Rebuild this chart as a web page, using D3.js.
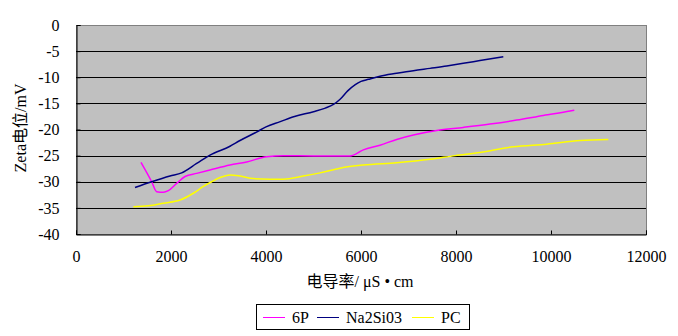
<!DOCTYPE html>
<html>
<head>
<meta charset="utf-8">
<script src="https://cdn.jsdelivr.net/npm/d3@7"></script>
<style>
  html, body { margin: 0; padding: 0; background: #fff; }
  svg { display: block; }
  text { font-family: "Liberation Serif", "Noto Sans CJK SC", serif; fill: #000; }
</style>
</head>
<body>
<svg id="chart" width="678" height="336"></svg>
<script>
// Conductivity (µS·cm) vs Zeta potential (mV) for three dispersants
const seriesNames = ["6P", "Na2Si03", "PC"];
const seriesColors = ["#FF00FF", "#000080", "#FFFF00"];

const x6P = [1368, 1593, 1698, 1839, 1944, 2119, 2295, 2540, 2821, 3242, 3593, 4014, 4365, 5000, 5768, 6049, 6400, 6751, 7102, 7593, 8154, 8716, 9277, 9839, 10400, 10491];
const y6P = [-26.3, -30.0, -31.9, -32.0, -31.7, -30.3, -29.0, -28.4, -27.75, -26.8, -26.2, -25.2, -25.0, -25.05, -25.05, -23.9, -23.0, -21.9, -21.05, -20.2, -19.6, -18.95, -18.2, -17.3, -16.46, -16.3];

const xNa = [1242, 1593, 1979, 2225, 2540, 2821, 3242, 3453, 3800, 4000, 4300, 4600, 5000, 5250, 5420, 5560, 5720, 5880, 6000, 6154, 6400, 6751, 7102, 7453, 7804, 8154, 8505, 8996];
const yNa = [-31.1, -30.0, -28.9, -28.3, -26.5, -24.9, -23.2, -22.1, -20.5, -19.5, -18.5, -17.5, -16.6, -15.9, -15.2, -14.2, -12.6, -11.4, -10.8, -10.4, -9.8, -9.25, -8.74, -8.3, -7.85, -7.34, -6.8, -6.06];

const xPC = [1207, 1523, 1839, 2189, 2470, 2681, 2856, 3032, 3242, 3453, 3733, 4084, 4365, 4786, 5137, 5558, 6049, 6751, 7453, 7979, 8505, 9207, 9909, 10611, 11207];
const yPC = [-34.8, -34.6, -34.1, -33.5, -32.2, -30.9, -30.0, -29.2, -28.7, -28.9, -29.4, -29.5, -29.5, -28.9, -28.3, -27.4, -26.8, -26.35, -25.7, -25.0, -24.4, -23.3, -22.8, -22.1, -21.9];

const xTicks = [0, 2000, 4000, 6000, 8000, 10000, 12000];
const yTicks = [0, -5, -10, -15, -20, -25, -30, -35, -40];

const xTitle = "电导率/ μS • cm";
const yTitle = "Zeta电位/mV";

const svg = d3.select("#chart");
const plot = { left: 76, top: 25, right: 646, bottom: 234 };

const x = d3.scaleLinear().domain([0, 12000]).range([plot.left, plot.right]);
const y = d3.scaleLinear().domain([-40, 0]).range([plot.bottom, plot.top]);

// plot area background
svg.append("rect")
  .attr("x", plot.left).attr("y", plot.top)
  .attr("width", plot.right - plot.left).attr("height", plot.bottom - plot.top)
  .attr("fill", "#C0C0C0")
  .attr("stroke", "#808080").attr("stroke-width", 1)
  .attr("shape-rendering", "crispEdges");

// horizontal gridlines
svg.append("g")
  .selectAll("line")
  .data(yTicks.filter(d => d > -40 && d < 0))
  .join("line")
  .attr("x1", plot.left).attr("x2", plot.right)
  .attr("y1", d => Math.round(y(d)) + 0.5).attr("y2", d => Math.round(y(d)) + 0.5)
  .attr("stroke", "#000").attr("stroke-width", 1);

// series lines
const line = d3.line()
  .x(d => x(d[0]))
  .y(d => y(d[1]))
  .curve(d3.curveMonotoneX);

const seriesData = [
  d3.zip(x6P, y6P),
  d3.zip(xNa, yNa),
  d3.zip(xPC, yPC)
];

svg.append("g")
  .selectAll("path")
  .data(seriesData)
  .join("path")
  .attr("d", line)
  .attr("fill", "none")
  .attr("stroke", (d, i) => seriesColors[i])
  .attr("stroke-width", 1.5);

// y axis (ticks inside)
const yAxis = d3.axisLeft(y).tickValues(yTicks).tickSize(-4).tickPadding(17).tickFormat(d3.format("d"));
const gy = svg.append("g")
  .attr("transform", `translate(${plot.left + 0.5},0)`)
  .call(yAxis);
gy.select(".domain").attr("stroke", "#000");
gy.selectAll(".tick line").attr("stroke", "#000");
gy.selectAll(".tick text")
  .attr("font-size", 16)
  .text(d => d === 0 ? "0" : "-" + Math.abs(d));

// x axis (ticks inside)
const xAxis = d3.axisBottom(x).tickValues(xTicks).tickSize(-4).tickPadding(16).tickFormat(d3.format("d"));
const gx = svg.append("g")
  .attr("transform", `translate(0,${plot.bottom + 0.5})`)
  .call(xAxis);
gx.select(".domain").attr("stroke", "#000");
gx.selectAll(".tick line").attr("stroke", "#000");
gx.selectAll(".tick text")
  .attr("font-size", 16);

// axis titles
svg.append("text")
  .attr("x", 360).attr("y", 287)
  .attr("text-anchor", "middle")
  .attr("font-size", 16)
  .attr("xml:space", "preserve")
  .text(xTitle);

svg.append("text")
  .attr("transform", "translate(26,128) rotate(-90)")
  .attr("text-anchor", "middle")
  .attr("font-size", 16)
  .text(yTitle);

// legend
const legend = svg.append("g");
legend.append("rect")
  .attr("x", 256.5).attr("y", 304.5)
  .attr("width", 213).attr("height", 25)
  .attr("fill", "#fff").attr("stroke", "#000").attr("stroke-width", 1);

const legendX = [263, 317, 412];
const items = legend.selectAll("g.item")
  .data(seriesNames)
  .join("g")
  .attr("class", "item")
  .attr("transform", (d, i) => `translate(${legendX[i]},317)`);
items.append("line")
  .attr("x1", 0).attr("x2", 22)
  .attr("y1", 0.5).attr("y2", 0.5)
  .attr("stroke", (d, i) => seriesColors[i]).attr("stroke-width", 1);
items.append("text")
  .attr("x", 29).attr("y", 5.5)
  .attr("font-size", 16)
  .text(d => d);
</script>
</body>
</html>
